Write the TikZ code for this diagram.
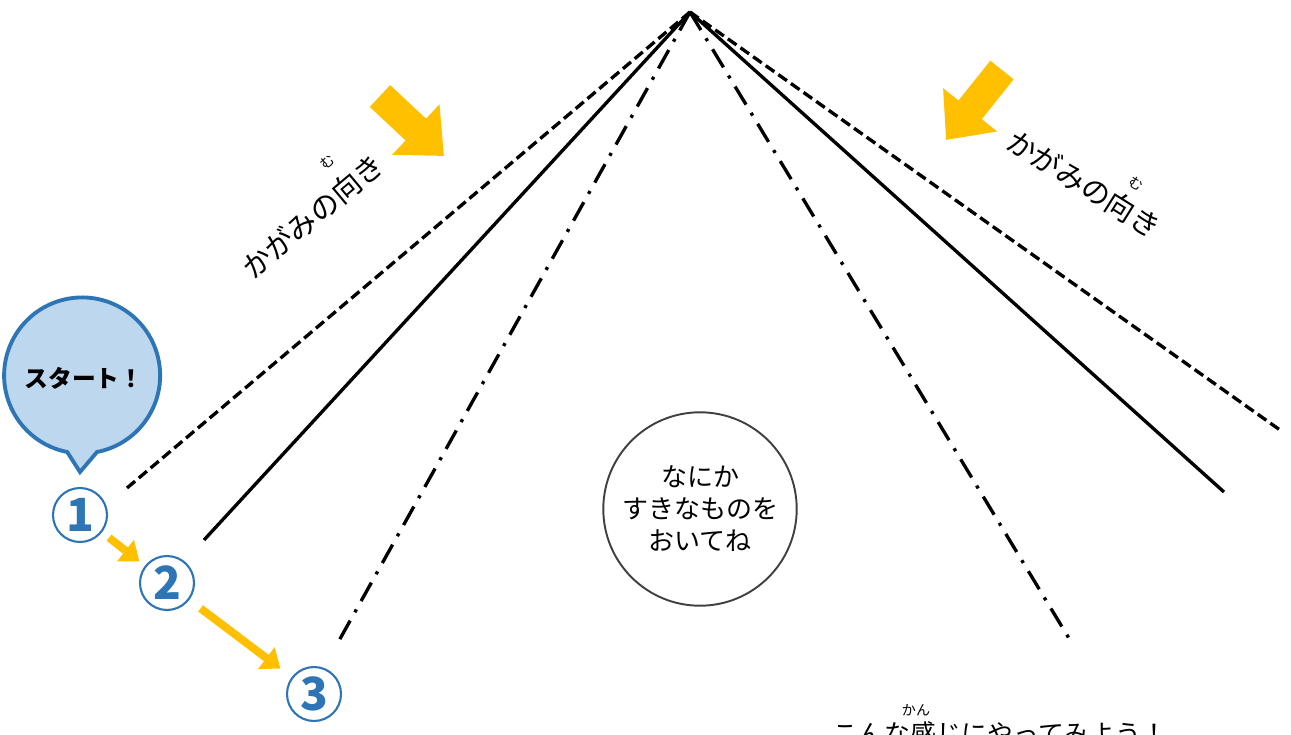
\documentclass[tikz,border=0pt]{standalone}
\usepackage{fontspec}
\setmainfont{Noto Sans CJK JP}
\usetikzlibrary{arrows.meta}
\definecolor{startblue}{HTML}{2E75B6}
\definecolor{bubblefill}{HTML}{BDD7EE}
\definecolor{arrowyellow}{HTML}{FFC000}

\begin{document}
\begin{tikzpicture}[x=0.02cm, y=-0.02cm,
    mirror/.style={line width=1.9pt, black},
    numcircle/.style={circle, draw=startblue, line width=1.2pt, minimum size=1.08cm,
      inner sep=0pt, text=startblue, font=\bfseries\fontsize{26}{26}\selectfont},
    blockarrow/.style={arrowyellow, line width=17pt, -{Triangle[width=38pt,length=22pt]}},
    steparrow/.style={arrowyellow, line width=4.5pt, -{Triangle[width=15pt,length=10pt]}},
    rubi/.style={font=\fontsize{8}{8}\selectfont}]
          \useasboundingbox (0,0) rectangle (1291,734);
          \clip (0,0) rectangle (1291,734);

          % mirror lines
          \coordinate (apex) at (690,12);
          \coordinate (ldash) at (127,488);
          \coordinate (lsolid) at (204,540);
          \coordinate (ldot) at (336,646);
          \coordinate (rdot) at (1070,640);
          \coordinate (rsolid) at (1224,492);
          \coordinate (rdash) at (1280,430);

          \draw[mirror, dash pattern=on 6pt off 2.8pt] (apex) -- (ldash);
          \draw[mirror] (apex) -- (lsolid);
          \draw[mirror, dash pattern=on 12pt off 5.5pt on 1.8pt off 5.5pt] (apex) -- (ldot);
          \draw[mirror, dash pattern=on 12pt off 5.5pt on 1.8pt off 5.5pt] (apex) -- (rdot);
          \draw[mirror] (apex) -- (rsolid);
          \draw[mirror, dash pattern=on 6pt off 2.8pt] (apex) -- (rdash);

          % facing arrows
          \coordinate (larrowtail) at (380,96);
          \coordinate (larrowtip) at (444,156);
          \coordinate (rarrowtail) at (1002,70);
          \coordinate (rarrowtip) at (946,140);
          \draw[blockarrow] (larrowtail) -- (larrowtip);
          \draw[blockarrow] (rarrowtail) -- (rarrowtip);

          \node[rotate=40, font=\fontsize{16.5}{16.5}\selectfont] (lmuki) at (313,216) {かがみの向き};
          \node[rotate=40, rubi] (lmukirubi) at (327,162) {む};
          \node[rotate=-32, font=\fontsize{16.5}{16.5}\selectfont] (rmuki) at (1084,184) {かがみの向き};
          \node[rotate=-32, rubi] (rmukirubi) at (1136,184) {む};

          % start bubble
          \filldraw[draw=startblue, fill=bubblefill, line width=2.2pt, line join=miter]
          (97,452) arc[start angle=79, end angle=-259, radius=78] -- (80,472) -- cycle;
          \node[font=\bfseries\fontsize{13.5}{13.5}\selectfont] (start) at (84,378) {スタート！};

          % order
          \node[numcircle] (one) at (80,515) {1};
          \node[numcircle] (two) at (167,583) {2};
          \node[numcircle] (three) at (314,694) {3};
          \draw[steparrow, shorten <=5pt, shorten >=4pt] (one) -- (two);
          \draw[steparrow, shorten <=8pt, shorten >=8pt] (two) -- (three);

          % object
          \node[circle, draw=black!75, line width=1.1pt, minimum size=3.8cm, align=center,
            font=\fontsize{14.8}{18.2}\selectfont] (thing) at (700,509)
            {なにか\\すきなものを\\おいてね};

          \node[font=\fontsize{14.7}{14.7}\selectfont] (hint) at (1000,733) {こんな感じにやってみよう！};
          \node[rubi] (hintrubi) at (916,710) {かん};

        \end{tikzpicture}
\end{document}
